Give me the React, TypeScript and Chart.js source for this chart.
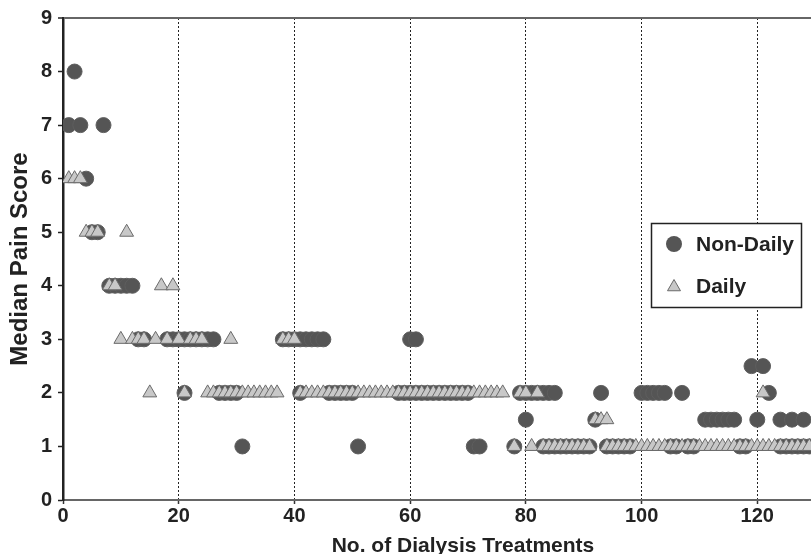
import React, { useEffect, useRef } from 'react';
import { Chart, registerables } from 'chart.js';

Chart.register(...registerables);

const FONT = "'Liberation Sans', Arial, Helvetica, sans-serif";

// Tick values
const xTickValues = [0, 20, 40, 60, 80, 100, 120];
const yTickValues = [0, 1, 2, 3, 4, 5, 6, 7, 8, 9];

// Non-Daily: treatment numbers at each median pain score
const nonDaily8 = [2];
const nonDaily7 = [1, 3, 7];
const nonDaily6 = [4];
const nonDaily5 = [5, 6];
const nonDaily4 = [8, 9, 10, 11, 12];
const nonDaily3 = [13, 14, 18, 19, 20, 21, 22, 23, 24, 25, 26, 38, 39, 40, 41, 42, 43, 44, 45, 60, 61];
const nonDaily25 = [119, 121];
const nonDaily2 = [21, 27, 28, 29, 30, 41, 46, 47, 48, 49, 50, 58, 59, 60, 61, 62, 63, 64, 65, 66, 67, 68, 69, 70, 79, 80, 81, 82, 83, 84, 85, 93, 100, 101, 102, 103, 104, 107, 122];
const nonDaily15 = [80, 92, 111, 112, 113, 114, 115, 116, 120, 124, 126, 128];
const nonDaily1 = [31, 51, 71, 72, 78, 83, 84, 85, 86, 87, 88, 89, 90, 91, 94, 95, 96, 97, 98, 105, 106, 108, 109, 117, 118, 124, 125, 126, 127, 128, 129];

// Daily: treatment numbers at each median pain score
const daily6 = [1, 2, 3];
const daily5 = [4, 5, 6, 11];
const daily4 = [8, 9, 17, 19];
const daily3 = [10, 12, 13, 14, 16, 18, 20, 22, 23, 24, 29, 38, 39, 40];
const daily2 = [15, 21, 25, 26, 27, 28, 29, 30, 31, 32, 33, 34, 35, 36, 37, 41, 42, 43, 44, 45, 46, 47, 48, 49, 50, 51, 52, 53, 54, 55, 56, 57, 58, 59, 60, 61, 62, 63, 64, 65, 66, 67, 68, 69, 70, 71, 72, 73, 74, 75, 76, 79, 80, 82, 121];
const daily15 = [92, 93, 94];
const daily1 = [78, 81, 83, 84, 85, 86, 87, 88, 89, 90, 91, 94, 95, 96, 97, 98, 99, 100, 101, 102, 103, 104, 105, 106, 107, 108, 109, 110, 111, 112, 113, 114, 115, 116, 117, 118, 119, 120, 121, 122, 123, 124, 125, 126, 127, 128, 129];

const nonDailyGroups: [number, number[]][] = [
  [8, nonDaily8], [7, nonDaily7], [6, nonDaily6], [5, nonDaily5], [4, nonDaily4],
  [3, nonDaily3], [2.5, nonDaily25], [2, nonDaily2], [1.5, nonDaily15], [1, nonDaily1],
];
const dailyGroups: [number, number[]][] = [
  [6, daily6], [5, daily5], [4, daily4], [3, daily3], [2, daily2], [1.5, daily15], [1, daily1],
];

const toPoints = (groups: [number, number[]][]) =>
  groups.flatMap(([y, xs]) => xs.map((x) => ({ x, y })));

const CIRCLE_FILL = '#555555';
const TRI_FILL = '#c8c8c8';
const TRI_EDGE = '#6a6a6a';
const TEXT = '#222222';

const overlayPlugin = {
  id: 'overlay',
  afterDraw(chart: any) {
    const { ctx, chartArea } = chart;
    ctx.save();
    ctx.fillStyle = TEXT;
    // x title
    ctx.font = `bold 21px ${FONT}`;
    ctx.textAlign = 'center';
    ctx.textBaseline = 'alphabetic';
    ctx.fillText('No. of Dialysis Treatments', (chartArea.left + chartArea.right) / 2 - 5, 552);
    // y title
    ctx.save();
    ctx.translate(27, (chartArea.top + chartArea.bottom) / 2);
    ctx.rotate(-Math.PI / 2);
    ctx.font = `bold 24px ${FONT}`;
    ctx.fillText('Median Pain Score', 0, 0);
    ctx.restore();
    // legend
    const bx = 651, by = 223, bw = 150, bh = 84;
    ctx.fillStyle = '#ffffff';
    ctx.fillRect(bx, by, bw, bh);
    ctx.lineWidth = 1.5;
    ctx.strokeStyle = '#222';
    ctx.strokeRect(bx + 0.5, by + 0.5, bw, bh);
    ctx.beginPath();
    ctx.arc(674, 244, 8, 0, Math.PI * 2);
    ctx.fillStyle = CIRCLE_FILL;
    ctx.fill();
    const r = 7.5;
    const cy = 287;
    ctx.beginPath();
    ctx.moveTo(674, cy - r);
    ctx.lineTo(674 + r * Math.sin((2 * Math.PI) / 3), cy + r / 2);
    ctx.lineTo(674 - r * Math.sin((2 * Math.PI) / 3), cy + r / 2);
    ctx.closePath();
    ctx.fillStyle = TRI_FILL;
    ctx.fill();
    ctx.lineWidth = 1;
    ctx.strokeStyle = TRI_EDGE;
    ctx.stroke();
    ctx.fillStyle = TEXT;
    ctx.font = `bold 21px ${FONT}`;
    ctx.textAlign = 'left';
    ctx.textBaseline = 'middle';
    ctx.fillText('Non-Daily', 696, 245);
    ctx.fillText('Daily', 696, 287);
    ctx.restore();
  },
};

export default function App() {
  const ref = useRef<HTMLCanvasElement>(null);
  useEffect(() => {
    const chart = new Chart(ref.current as HTMLCanvasElement, {
      type: 'scatter',
      data: {
        datasets: [
          {
            label: 'Daily',
            data: toPoints(dailyGroups),
            pointStyle: 'triangle',
            pointRadius: 8,
            pointBackgroundColor: TRI_FILL,
            pointBorderColor: TRI_EDGE,
            pointBorderWidth: 1,
          },
          {
            label: 'Non-Daily',
            data: toPoints(nonDailyGroups),
            pointStyle: 'circle',
            pointRadius: 7.5,
            pointBackgroundColor: CIRCLE_FILL,
            pointBorderColor: '#5e5e5e',
            pointBorderWidth: 1,
          },
        ],
      },
      options: {
        animation: false,
        responsive: false,
        devicePixelRatio: 1,
        layout: { autoPadding: false, padding: { top: 17, left: 0, right: 0, bottom: 0 } },
        plugins: { legend: { display: false }, tooltip: { enabled: false } },
        scales: {
          x: {
            type: 'linear',
            min: 0,
            max: 140,
            afterBuildTicks: (axis: any) => {
              axis.ticks = xTickValues.map((value) => ({ value }));
            },
            afterFit: (axis: any) => {
              axis.height = 54;
              axis.paddingLeft = 0;
              axis.paddingRight = 0;
            },
            ticks: {
              font: { family: FONT, size: 20, weight: 'bold' },
              color: TEXT,
              padding: 0,
              maxRotation: 0,
            },
            grid: {
              color: '#222',
              lineWidth: 1,
              drawTicks: true,
              tickLength: 4,
              tickColor: '#333',
              tickWidth: 1.5,
            },
            border: { display: true, color: '#666', width: 2, dash: [2, 2] },
          },
          y: {
            type: 'linear',
            min: 0,
            max: 9,
            afterBuildTicks: (axis: any) => {
              axis.ticks = yTickValues.map((value) => ({ value }));
            },
            afterFit: (axis: any) => {
              axis.width = 63;
            },
            ticks: {
              font: { family: FONT, size: 20, weight: 'bold' },
              color: TEXT,
              padding: 6,
            },
            grid: {
              color: (c: any) => (c.tick && c.tick.value === 9 ? '#666' : 'rgba(0,0,0,0)'),
              lineWidth: (c: any) => (c.tick && c.tick.value === 9 ? 2 : 1),
              drawTicks: true,
              tickLength: 5,
              tickColor: '#222',
              tickWidth: 1.5,
            },
            border: { display: true, color: '#222', width: 2.5 },
          },
        },
      },
      plugins: [overlayPlugin],
    });
    return () => chart.destroy();
  }, []);
  return (
    <div
      style={{
        position: 'fixed',
        left: 0,
        top: 0,
        width: 811,
        height: 554,
        overflow: 'hidden',
        background: '#fff',
      }}
    >
      <canvas ref={ref} width={873} height={554} style={{ display: 'block', width: 873, height: 554 }} />
    </div>
  );
}
